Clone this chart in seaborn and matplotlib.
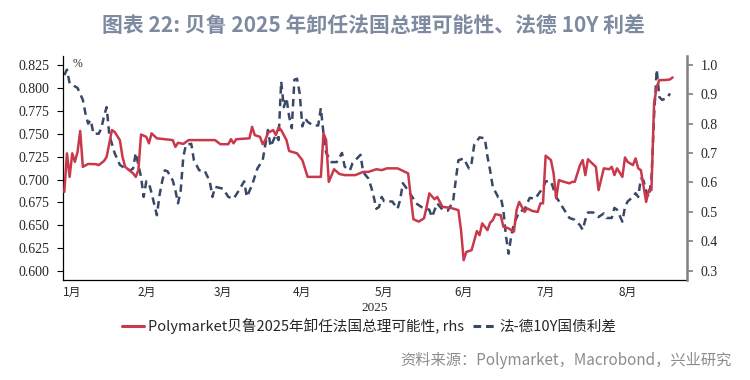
import pandas as pd
import seaborn as sns
import matplotlib.pyplot as plt
from matplotlib.lines import Line2D

# Polymarket: probability that Bayrou leaves office in 2025 (right axis)
pm_dates = ['01-15', '01-16', '01-17', '01-18', '01-19', '01-20', '01-21', '01-22', '01-24', '01-27',
            '01-28', '01-30', '01-31', '02-01', '02-02', '02-03', '02-05', '02-06', '02-07', '02-10',
            '02-11', '02-12', '02-13', '02-15', '02-16', '02-17', '02-19', '02-25', '02-26', '02-27',
            '03-01', '03-03', '03-13', '03-15', '03-18', '03-19', '03-20', '03-21', '03-26', '03-27',
            '03-28', '03-30', '03-31', '04-01', '04-02', '04-04', '04-05', '04-06', '04-07', '04-09',
            '04-10', '04-13', '04-15', '04-17', '04-22', '04-23', '04-24', '04-25', '04-27', '04-29',
            '05-01', '05-05', '05-08', '05-10', '05-13', '05-15', '05-17', '05-21', '05-25', '05-26',
            '05-27', '05-29', '05-31', '06-01', '06-02', '06-04', '06-05', '06-07', '06-10', '06-13',
            '06-14', '06-15', '06-16', '06-18', '06-20', '06-21', '06-22', '06-24', '06-25', '06-26',
            '06-27', '06-29', '06-30', '07-02', '07-03', '07-04', '07-05', '07-06', '07-07', '07-08',
            '07-09', '07-11', '07-13', '07-14', '07-15', '07-16', '07-18', '07-19', '07-20', '07-21',
            '07-23', '07-25', '07-26', '07-27', '07-29', '07-30', '07-31', '08-01', '08-02', '08-04',
            '08-05', '08-07', '08-09', '08-10', '08-11', '08-12', '08-14', '08-15', '08-16', '08-18',
            '08-19', '08-20', '08-21', '08-23', '08-24', '08-25', '08-26', '08-27', '08-28', '08-30',
            '09-01', '09-02']
pm_prob = [0.568, 0.699, 0.619, 0.699, 0.670, 0.704, 0.775, 0.653, 0.663, 0.662,
           0.659, 0.673, 0.687, 0.733, 0.778, 0.772, 0.744, 0.687, 0.653, 0.631,
           0.619, 0.642, 0.763, 0.755, 0.733, 0.767, 0.750, 0.744, 0.721, 0.735,
           0.731, 0.744, 0.744, 0.730, 0.730, 0.747, 0.733, 0.747, 0.750, 0.789,
           0.761, 0.755, 0.730, 0.744, 0.769, 0.778, 0.761, 0.787, 0.778, 0.744,
           0.707, 0.699, 0.676, 0.619, 0.619, 0.767, 0.744, 0.602, 0.645, 0.629,
           0.625, 0.625, 0.636, 0.636, 0.645, 0.642, 0.648, 0.648, 0.631, 0.551,
           0.475, 0.467, 0.478, 0.517, 0.563, 0.543, 0.551, 0.517, 0.514, 0.506,
           0.438, 0.336, 0.364, 0.370, 0.435, 0.421, 0.461, 0.438, 0.463, 0.472,
           0.492, 0.489, 0.450, 0.444, 0.438, 0.433, 0.506, 0.534, 0.517, 0.500,
           0.512, 0.503, 0.500, 0.529, 0.529, 0.691, 0.676, 0.631, 0.546, 0.608,
           0.602, 0.597, 0.602, 0.602, 0.659, 0.676, 0.625, 0.679, 0.670, 0.653,
           0.574, 0.648, 0.645, 0.653, 0.625, 0.648, 0.619, 0.685, 0.670, 0.659,
           0.682, 0.648, 0.642, 0.534, 0.574, 0.574, 0.869, 0.925, 0.948, 0.948,
           0.950, 0.957]

# France-Germany 10Y government bond spread, % (left axis)
spread_dates = ['01-15', '01-16', '01-17', '01-20', '01-22', '01-23', '01-24', '01-25', '01-26', '01-28',
                '01-29', '01-30', '01-31', '02-01', '02-03', '02-05', '02-07', '02-09', '02-10', '02-11',
                '02-13', '02-14', '02-15', '02-16', '02-17', '02-19', '02-20', '02-21', '02-22', '02-23',
                '02-25', '02-26', '02-27', '02-28', '03-01', '03-02', '03-04', '03-05', '03-07', '03-09',
                '03-11', '03-12', '03-13', '03-16', '03-18', '03-20', '03-22', '03-24', '03-25', '03-27',
                '03-29', '03-31', '04-01', '04-02', '04-03', '04-05', '04-06', '04-07', '04-08', '04-09',
                '04-10', '04-11', '04-12', '04-13', '04-14', '04-15', '04-16', '04-17', '04-19', '04-21',
                '04-22', '04-23', '04-24', '04-26', '04-28', '04-30', '05-01', '05-03', '05-04', '05-07',
                '05-08', '05-10', '05-11', '05-12', '05-13', '05-14', '05-15', '05-16', '05-19', '05-21',
                '05-22', '05-23', '05-25', '05-27', '05-28', '05-30', '06-02', '06-03', '06-05', '06-07',
                '06-09', '06-11', '06-12', '06-13', '06-15', '06-17', '06-18', '06-19', '06-21', '06-23',
                '06-24', '06-25', '06-26', '06-28', '06-29', '06-30', '07-01', '07-02', '07-03', '07-04',
                '07-05', '07-06', '07-08', '07-09', '07-10', '07-12', '07-13', '07-15', '07-16', '07-18',
                '07-20', '07-23', '07-25', '07-27', '07-29', '07-30', '07-31', '08-01', '08-03', '08-05',
                '08-07', '08-08', '08-10', '08-11', '08-12', '08-14', '08-15', '08-16', '08-18', '08-19',
                '08-20', '08-21', '08-22', '08-23', '08-24', '08-25', '08-26', '08-27', '08-28', '08-29',
                '08-31', '09-01']
spread = [0.814, 0.820, 0.805, 0.800, 0.787, 0.772, 0.761, 0.765, 0.750, 0.750,
          0.756, 0.769, 0.779, 0.749, 0.729, 0.716, 0.712, 0.710, 0.712, 0.729,
          0.703, 0.681, 0.698, 0.696, 0.685, 0.661, 0.683, 0.698, 0.710, 0.709,
          0.699, 0.688, 0.674, 0.688, 0.725, 0.738, 0.739, 0.721, 0.710, 0.710,
          0.698, 0.681, 0.692, 0.690, 0.681, 0.679, 0.688, 0.698, 0.681, 0.694,
          0.712, 0.721, 0.738, 0.754, 0.736, 0.749, 0.743, 0.807, 0.779, 0.789,
          0.769, 0.756, 0.809, 0.810, 0.794, 0.758, 0.767, 0.763, 0.759, 0.759,
          0.778, 0.750, 0.729, 0.719, 0.719, 0.729, 0.714, 0.710, 0.718, 0.727,
          0.708, 0.701, 0.692, 0.681, 0.668, 0.670, 0.681, 0.676, 0.676, 0.668,
          0.678, 0.696, 0.688, 0.679, 0.674, 0.670, 0.667, 0.659, 0.674, 0.667,
          0.666, 0.676, 0.699, 0.721, 0.723, 0.712, 0.718, 0.738, 0.746, 0.745,
          0.725, 0.710, 0.692, 0.681, 0.681, 0.667, 0.638, 0.619, 0.639, 0.652,
          0.658, 0.665, 0.667, 0.674, 0.680, 0.679, 0.683, 0.691, 0.698, 0.698,
          0.681, 0.667, 0.658, 0.656, 0.650, 0.645, 0.656, 0.664, 0.664, 0.659,
          0.663, 0.658, 0.658, 0.669, 0.667, 0.654, 0.670, 0.676, 0.681, 0.685,
          0.681, 0.701, 0.699, 0.687, 0.681, 0.700, 0.770, 0.820, 0.790, 0.787,
          0.789, 0.794]

month_labels = ['1月', '2月', '3月', '4月', '5月', '6月', '7月', '8月']
month_label_dates = ['2025-01-18', '2025-02-15', '2025-03-16', '2025-04-15',
                     '2025-05-16', '2025-06-15', '2025-07-16', '2025-08-16']
month_starts = ['2025-02-01', '2025-03-01', '2025-04-01', '2025-05-01',
                '2025-06-01', '2025-07-01', '2025-08-01', '2025-09-01']
left_ticks = [0.600, 0.625, 0.650, 0.675, 0.700, 0.725, 0.750, 0.775, 0.800, 0.825]
right_ticks = [0.3, 0.4, 0.5, 0.6, 0.7, 0.8, 0.9, 1.0]

pm_label = 'Polymarket贝鲁2025年卸任法国总理可能性, rhs'
spread_label = '法-德10Y国债利差'
title = '图表 22: 贝鲁 2025 年卸任法国总理可能性、法德 10Y 利差'
source = '资料来源：Polymarket，Macrobond，兴业研究'

red = '#c9384b'
navy = '#3a4868'

sns.set_style('white')
plt.rcParams['font.family'] = ['Noto Sans CJK SC', 'DejaVu Sans']

df_pm = pd.DataFrame({'date': pd.to_datetime(['2025-' + d for d in pm_dates]), 'prob': pm_prob})
df_sp = pd.DataFrame({'date': pd.to_datetime(['2025-' + d for d in spread_dates]), 'spread': spread})

fig = plt.figure(figsize=(7.5, 3.8), dpi=100)
ax = fig.add_axes([0.084, 0.263, 0.8316, 0.5895])
ax2 = ax.twinx()

# spread on the left axis, dashed
sns.lineplot(data=df_sp, x='date', y='spread', ax=ax, color=navy, lw=1.8, estimator=None)
ax.lines[-1].set_dashes([3, 2])
# polymarket on the right axis
sns.lineplot(data=df_pm, x='date', y='prob', ax=ax2, color=red, lw=1.8, estimator=None)

ax.set_xlim(pd.Timestamp('2025-01-14 12:00'), pd.Timestamp('2025-09-07 08:00'))
ax.set_ylim(0.5902, 0.8348)
ax2.set_ylim(0.2684, 1.0296)

ax.set_yticks(left_ticks)
ax.set_yticklabels([f'{t:.3f}' for t in left_ticks], fontfamily='Liberation Serif', fontsize=10)
ax2.set_yticks(right_ticks)
ax2.set_yticklabels([f'{t:.1f}' for t in right_ticks], fontfamily='Liberation Serif', fontsize=10)

ax.set_xticks(pd.to_datetime(month_starts))
ax.set_xticklabels([''] * len(month_starts))
ax.set_xticks(pd.to_datetime(month_label_dates), minor=True)
ax.set_xticklabels(month_labels, minor=True, fontsize=8.5)

ax.tick_params(axis='x', which='major', direction='out', length=3, width=0.8, color='black')
ax.tick_params(axis='x', which='minor', length=0, pad=4)
ax.tick_params(axis='y', direction='out', length=4.5, width=0.8, color='black', pad=5.5, left=True)
ax2.tick_params(axis='y', direction='out', length=4.5, width=1.2, color='#808080', pad=5.5, right=True)

for a in (ax, ax2):
    a.set_xlabel('')
    a.set_ylabel('')
    a.spines['top'].set_visible(False)
ax.spines['right'].set_visible(False)
ax.spines['left'].set_color('black')
ax.spines['left'].set_linewidth(0.9)
ax.spines['bottom'].set_color('black')
ax.spines['bottom'].set_linewidth(0.9)
ax2.spines['left'].set_visible(False)
ax2.spines['bottom'].set_visible(False)
ax2.spines['right'].set_color('#808080')
ax2.spines['right'].set_linewidth(1.8)

ax.text(0.0155, 0.964, '%', transform=ax.transAxes, fontsize=8.5,
        fontfamily='Liberation Serif', va='center', ha='left')

fig.text(0.5, 1 - 308 / 380, '2025', ha='center', va='center',
         fontfamily='Liberation Serif', fontsize=9.5)

handles = [Line2D([], [], color=red, lw=2.2),
           Line2D([], [], color=navy, lw=2.2, dashes=[2.5, 1.6])]
fig.legend(handles, [pm_label, spread_label], loc='center', bbox_to_anchor=(0.492, 1 - 325.7 / 380),
           ncol=2, frameon=False, fontsize=10.5, handlelength=1.5, handletextpad=0.3,
           columnspacing=0.6, borderpad=0)

fig.text(0.498, 1 - 26.6 / 380, title, ha='center', va='center', fontsize=15,
         fontweight='bold', color='#7d8aa0')
fig.text(732 / 750, 1 - 360 / 380, source, ha='right', va='center', fontsize=11, color='#8c8c8c')

fig.savefig('out.png', dpi=100)
